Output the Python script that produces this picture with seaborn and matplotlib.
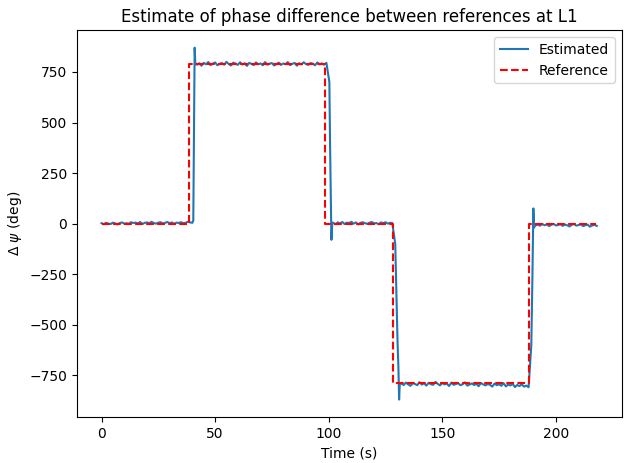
import numpy as np
import seaborn as sns
import matplotlib.pyplot as plt

# Estimated phase difference (deg), 1 s steps on the plateaus
seg1_t0 = 0
seg1 = [2, -3, 4, 0, -2, 5, 1, -4, 3, 6, 0, 2, -1, 7, 3, 5, 1, 8, -2, 4,
        6, 2, 9, 3, 0, 5, 7, 1, 4, 8, 2, 6, -1, 5, 3, 7, 2, 4, 9, 6, 4]
rise1_t = [40.4, 40.8, 41.0, 41.3]
rise1_v = [15, 600, 870, 790]
seg2_t0 = 42
seg2 = [786, 793, 781, 795, 788, 799, 784, 791, 797, 783, 790, 794, 786, 800,
        789, 782, 796, 791, 785, 798, 787, 793, 780, 795, 790, 784, 797, 788,
        792, 783, 799, 786, 791, 794, 782, 789, 796, 785, 792, 788, 799, 784,
        790, 795, 781, 793, 787, 798, 789, 785, 794, 791, 783, 797, 788, 792,
        786, 795]
fall1_t = [100.3, 100.6, 100.9, 101.2, 101.6]
fall1_v = [700, 400, 150, -80, 5]
seg3_t0 = 102
seg3 = [4, -3, 6, 1, 8, -2, 5, 3, 9, 0, 6, -4, 4, 7, 2, -1, 5, 8, 1, 3,
        -3, 6, 2, 7, 0, 4, 3]
fall2_t = [129.3, 129.8, 130.3, 130.7, 131.0, 131.3]
fall2_v = [-100, -350, -580, -713, -870, -790]
seg4_t0 = 132
seg4 = [-791, -798, -786, -795, -802, -789, -793, -799, -784, -796, -790, -801,
        -787, -794, -797, -783, -792, -800, -788, -795, -791, -803, -786, -797,
        -793, -789, -799, -794, -785, -801, -796, -790, -798, -792, -804, -788,
        -795, -800, -793, -797, -806, -791, -799, -794, -802, -789, -805, -796,
        -800, -793, -808, -798, -803, -795, -806, -801, -809]
rise2_t = [189.2, 189.7, 190.1, 190.4, 190.8]
rise2_v = [-600, -250, 75, -20, -10]
seg5_t0 = 192
seg5 = [-5, -10, -2, -8, -4, -12, -6, -1, -9, -7, -3, -11, -5, -8, -14, -6,
        -2, -10, -7, -4, -12, -8, -5, -15, -9, -6, -11]

# Reference steps
ref_t = [0, 38.4, 98.3, 128.4, 188.0, 217.5]
ref_v = [0, 788, 0, -788, 0, 0]

t_est = np.concatenate([
    np.arange(len(seg1)) + seg1_t0, rise1_t,
    np.arange(len(seg2)) + seg2_t0, fall1_t,
    np.arange(len(seg3)) + seg3_t0, fall2_t,
    np.arange(len(seg4)) + seg4_t0, rise2_t,
    np.arange(len(seg5)) + seg5_t0,
])
v_est = np.concatenate([seg1, rise1_v, seg2, fall1_v, seg3, fall2_v,
                        seg4, rise2_v, seg5])

fig, ax = plt.subplots(figsize=(6.24, 4.63), dpi=100)
sns.lineplot(x=t_est, y=v_est, ax=ax, color='#1f77b4', linewidth=1.5,
             label='Estimated', estimator=None)
sns.lineplot(x=ref_t, y=ref_v, ax=ax, color='red', linestyle='--',
             linewidth=1.5, drawstyle='steps-post', label='Reference',
             estimator=None)
ax.set_title('Estimate of phase difference between references at L1')
ax.set_xlabel('Time (s)')
ax.set_ylabel(r'$\Delta\ \psi$ (deg)')
ax.legend(loc='upper right')
fig.subplots_adjust(left=0.123, right=0.996, top=0.935, bottom=0.099)
fig.savefig('out.png')
